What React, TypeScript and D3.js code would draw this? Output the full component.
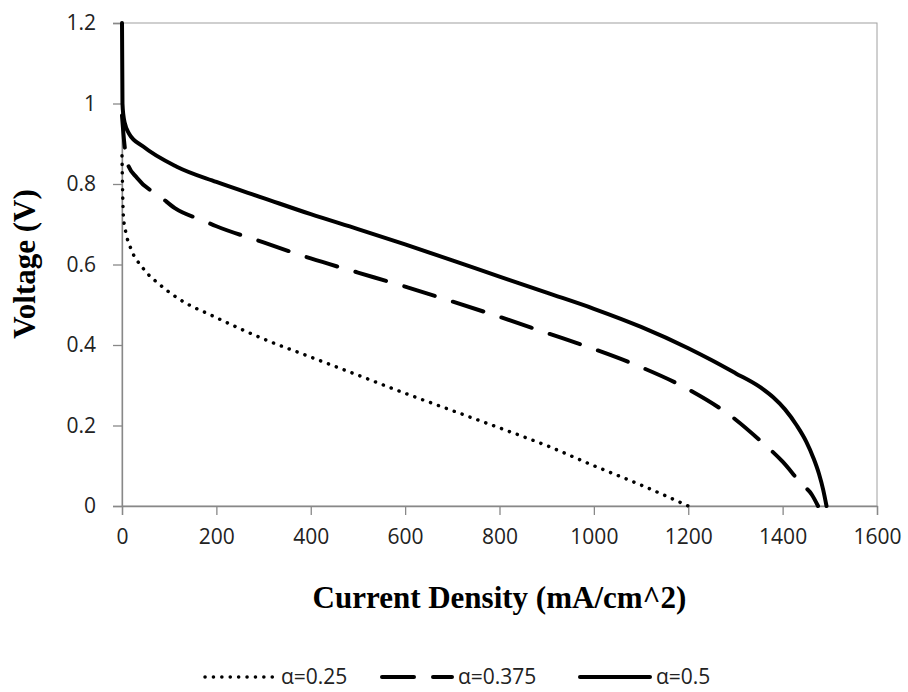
import React, { useEffect, useRef } from 'react';
import * as d3 from 'd3';

const W = 908;
const H = 692;
const margin = { top: 23, right: 31, bottom: 186, left: 122 };
const width = W - margin.left - margin.right;
const height = H - margin.top - margin.bottom;

// current density (mA/cm^2) and voltage (V)
const xLow = [0, 1, 3, 8, 17, 45, 80, 120, 200, 300, 400, 500, 600, 700, 800, 900, 1000, 1100, 1200];
const vLow = [0.87, 0.8, 0.72, 0.68, 0.645, 0.59, 0.55, 0.515, 0.468, 0.415, 0.37, 0.325, 0.28, 0.237, 0.194, 0.15, 0.1, 0.052, 0];

const xMid = [0, 5, 12, 32, 85, 112, 170, 200, 300, 400, 500, 600, 700, 800, 900, 1000, 1100, 1200, 1300, 1350, 1400, 1440, 1462, 1475];
const vMid = [0.97, 0.9, 0.85, 0.815, 0.765, 0.74, 0.71, 0.695, 0.655, 0.615, 0.58, 0.545, 0.508, 0.47, 0.43, 0.39, 0.345, 0.29, 0.215, 0.165, 0.11, 0.055, 0.028, 0];

const xHigh = [0, 1, 3, 6, 15, 45, 116, 200, 300, 400, 500, 600, 700, 800, 900, 1000, 1100, 1200, 1250, 1300, 1350, 1380, 1405, 1430, 1450, 1465, 1477, 1486, 1493];
const vHigh = [1.2, 1.0, 0.97, 0.951, 0.925, 0.893, 0.843, 0.805, 0.765, 0.725, 0.688, 0.65, 0.61, 0.57, 0.53, 0.49, 0.445, 0.392, 0.362, 0.33, 0.297, 0.27, 0.24, 0.2, 0.16, 0.12, 0.08, 0.04, 0];

const seriesNames = ['α=0.25', 'α=0.375', 'α=0.5'];
const xTicks = [0, 200, 400, 600, 800, 1000, 1200, 1400, 1600];
const yTicks = [0, 0.2, 0.4, 0.6, 0.8, 1, 1.2];

const styles = [
  { w: 3.5, dash: '0.1 8.3' },
  { w: 4, dash: '32 19' },
  { w: 4, dash: null }
];

export default function App() {
  const ref = useRef<SVGSVGElement>(null);

  useEffect(() => {
    const svg = d3.select(ref.current);
    svg.selectAll('*').remove();

    const x = d3.scaleLinear().domain([0, 1600]).range([0, width]);
    const y = d3.scaleLinear().domain([0, 1.2]).range([height, 0]);

    const g = svg.append('g').attr('transform', `translate(${margin.left},${margin.top})`);

    // plot area border
    g.append('rect')
      .attr('x', 0).attr('y', 0)
      .attr('width', width).attr('height', height)
      .attr('fill', 'none')
      .attr('stroke', '#a0a0a0')
      .attr('stroke-width', 1);

    const xAxis = g.append('g')
      .attr('transform', `translate(0,${height})`)
      .call(d3.axisBottom(x).tickValues(xTicks).tickSize(9).tickPadding(14).tickFormat(d3.format('d')));
    const yAxis = g.append('g')
      .call(d3.axisLeft(y).tickValues(yTicks).tickSize(9).tickPadding(17).tickFormat(d => String(+d)));

    [xAxis, yAxis].forEach(a => {
      a.select('.domain').attr('stroke', '#888').attr('stroke-width', 1.3);
      a.selectAll('.tick line').attr('stroke', '#888').attr('stroke-width', 1.3);
      a.selectAll('.tick text')
        .attr('fill', '#222')
        .style('font-family', '"Open Sans", sans-serif')
        .style('font-size', '21px');
    });

    const line = d3.line<[number, number]>()
      .x(d => x(d[0]))
      .y(d => y(d[1]))
      .curve(d3.curveMonotoneX);

    const series = [
      d3.zip(xLow, vLow),
      d3.zip(xMid, vMid),
      d3.zip(xHigh, vHigh)
    ] as [number, number][][];

    series.forEach((s, i) => {
      g.append('path')
        .datum(s)
        .attr('d', line)
        .attr('fill', 'none')
        .attr('stroke', '#000')
        .attr('stroke-width', styles[i].w)
        .attr('stroke-linecap', 'round')
        .attr('stroke-dasharray', styles[i].dash);
    });

    // axis titles
    svg.append('text')
      .attr('x', margin.left + width / 2)
      .attr('y', 608)
      .attr('text-anchor', 'middle')
      .style('font-family', '"Liberation Serif", "Times New Roman", serif')
      .style('font-weight', 'bold')
      .style('font-size', '31px')
      .text('Current Density (mA/cm^2)');

    svg.append('text')
      .attr('transform', `translate(35,${264}) rotate(-90)`)
      .attr('text-anchor', 'middle')
      .style('font-family', '"Liberation Serif", "Times New Roman", serif')
      .style('font-weight', 'bold')
      .style('font-size', '31px')
      .text('Voltage (V)');

    // legend
    const legendX = [205, 382, 580];
    const legend = svg.append('g').attr('transform', 'translate(0,677)');
    seriesNames.forEach((name, i) => {
      legend.append('line')
        .attr('x1', legendX[i]).attr('x2', legendX[i] + 70)
        .attr('y1', 0).attr('y2', 0)
        .attr('stroke', '#000')
        .attr('stroke-width', styles[i].w)
        .attr('stroke-linecap', 'round')
        .attr('stroke-dasharray', styles[i].dash);
      legend.append('text')
        .attr('x', legendX[i] + 76)
        .attr('y', 7)
        .attr('fill', '#222')
        .style('font-family', '"Open Sans", sans-serif')
        .style('font-size', '21px')
        .text(name);
    });
  }, []);

  return (
    <svg ref={ref} width={W} height={H}
      style={{ position: 'absolute', left: 0, top: 0, background: '#fff' }} />
  );
}
